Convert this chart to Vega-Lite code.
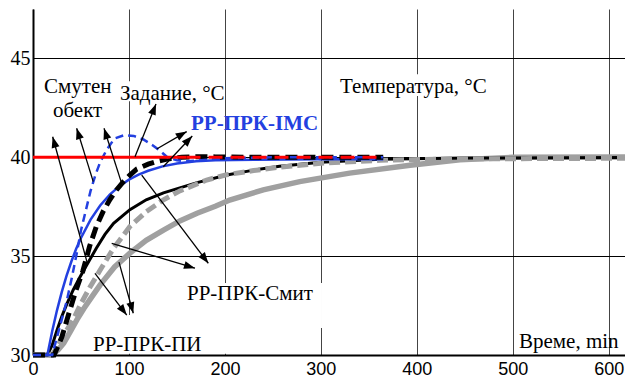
{
  "$schema": "https://vega.github.io/schema/vega-lite/v6.json",
  "width": 592,
  "height": 346,
  "autosize": {"type": "none"},
  "padding": {"left": 33, "top": 9, "right": 0, "bottom": 26},
  "background": "white",
  "config": {"view": {"stroke": null}},
  "datasets": {
    "curves": [
      {"s":"gray","x":0,"y":30},{"s":"gray","x":20,"y":30},{"s":"gray","x":26,"y":30.25},{"s":"gray","x":32,"y":30.6},{"s":"gray","x":39,"y":31.2},{"s":"gray","x":46,"y":31.8},{"s":"gray","x":53,"y":32.35},{"s":"gray","x":60,"y":32.85},{"s":"gray","x":70,"y":33.55},{"s":"gray","x":85,"y":34.45},{"s":"gray","x":101,"y":35.15},{"s":"gray","x":118,"y":35.8},{"s":"gray","x":136,"y":36.32},{"s":"gray","x":153,"y":36.78},{"s":"gray","x":171,"y":37.17},{"s":"gray","x":190,"y":37.52},{"s":"gray","x":205,"y":37.84},{"s":"gray","x":240,"y":38.35},{"s":"gray","x":278,"y":38.77},{"s":"gray","x":330,"y":39.2},{"s":"gray","x":393,"y":39.6},{"s":"gray","x":445,"y":39.88},{"s":"gray","x":500,"y":40.0},{"s":"gray","x":617,"y":40.02},
      {"s":"smb","x":0,"y":30},{"s":"smb","x":15,"y":30},{"s":"smb","x":20,"y":30.5},{"s":"smb","x":25,"y":31.25},{"s":"smb","x":30,"y":31.95},{"s":"smb","x":35,"y":32.55},{"s":"smb","x":42,"y":33.3},{"s":"smb","x":49,"y":33.95},{"s":"smb","x":56,"y":34.55},{"s":"smb","x":66,"y":35.4},{"s":"smb","x":75,"y":36.1},{"s":"smb","x":84,"y":36.66},{"s":"smb","x":101,"y":37.35},{"s":"smb","x":118,"y":37.85},{"s":"smb","x":136,"y":38.2},{"s":"smb","x":153,"y":38.45},{"s":"smb","x":171,"y":38.72},{"s":"smb","x":202,"y":39.1},{"s":"smb","x":230,"y":39.35},{"s":"smb","x":257,"y":39.55},{"s":"smb","x":300,"y":39.75},{"s":"smb","x":362,"y":39.9},{"s":"smb","x":450,"y":39.96},{"s":"smb","x":617,"y":39.99},
      {"s":"smg","x":0,"y":30},{"s":"smg","x":20,"y":30},{"s":"smg","x":25,"y":30.4},{"s":"smg","x":32,"y":31.0},{"s":"smg","x":42,"y":31.8},{"s":"smg","x":50,"y":32.6},{"s":"smg","x":59,"y":33.4},{"s":"smg","x":70,"y":34.3},{"s":"smg","x":84,"y":35.4},{"s":"smg","x":101,"y":36.5},{"s":"smg","x":118,"y":37.25},{"s":"smg","x":136,"y":37.85},{"s":"smg","x":153,"y":38.3},{"s":"smg","x":181,"y":38.85},{"s":"smg","x":202,"y":39.12},{"s":"smg","x":230,"y":39.33},{"s":"smg","x":257,"y":39.5},{"s":"smg","x":300,"y":39.7},{"s":"smg","x":362,"y":39.85},{"s":"smg","x":450,"y":39.92},{"s":"smg","x":617,"y":39.95},
      {"s":"bk","x":0,"y":30},{"s":"bk","x":22,"y":30},{"s":"bk","x":30,"y":30.9},{"s":"bk","x":38,"y":32.2},{"s":"bk","x":45,"y":33.3},{"s":"bk","x":52,"y":34.25},{"s":"bk","x":59,"y":35.5},{"s":"bk","x":66,"y":36.5},{"s":"bk","x":73,"y":37.25},{"s":"bk","x":80,"y":37.85},{"s":"bk","x":87,"y":38.35},{"s":"bk","x":94,"y":38.75},{"s":"bk","x":101,"y":39.1},{"s":"bk","x":108,"y":39.4},{"s":"bk","x":120,"y":39.65},{"s":"bk","x":130,"y":39.8},{"s":"bk","x":142,"y":39.93},{"s":"bk","x":155,"y":40.0},{"s":"bk","x":170,"y":40.03},{"s":"bk","x":190,"y":40.02},{"s":"bk","x":220,"y":40.0},{"s":"bk","x":365,"y":40.0},
      {"s":"bs","x":0,"y":30},{"s":"bs","x":15,"y":30},{"s":"bs","x":20,"y":31.2},{"s":"bs","x":25,"y":32.26},{"s":"bs","x":30,"y":33.19},{"s":"bs","x":35,"y":34.01},{"s":"bs","x":40,"y":34.73},{"s":"bs","x":45,"y":35.37},{"s":"bs","x":50,"y":35.92},{"s":"bs","x":60,"y":36.85},{"s":"bs","x":70,"y":37.56},{"s":"bs","x":80,"y":38.11},{"s":"bs","x":90,"y":38.54},{"s":"bs","x":100,"y":38.87},{"s":"bs","x":110,"y":39.12},{"s":"bs","x":120,"y":39.32},{"s":"bs","x":135,"y":39.54},{"s":"bs","x":150,"y":39.69},{"s":"bs","x":170,"y":39.8},{"s":"bs","x":190,"y":39.85},{"s":"bs","x":230,"y":39.88},{"s":"bs","x":300,"y":39.9},{"s":"bs","x":365,"y":39.9},
      {"s":"bd","x":0,"y":30},{"s":"bd","x":20,"y":30},{"s":"bd","x":25,"y":30.9},{"s":"bd","x":30,"y":31.8},{"s":"bd","x":35,"y":32.7},{"s":"bd","x":40,"y":33.8},{"s":"bd","x":45,"y":35.0},{"s":"bd","x":50,"y":36.3},{"s":"bd","x":55,"y":37.3},{"s":"bd","x":60,"y":38.3},{"s":"bd","x":65,"y":39.1},{"s":"bd","x":70,"y":39.75},{"s":"bd","x":77,"y":40.4},{"s":"bd","x":85,"y":40.95},{"s":"bd","x":95,"y":41.12},{"s":"bd","x":105,"y":41.08},{"s":"bd","x":115,"y":40.9},{"s":"bd","x":125,"y":40.6},{"s":"bd","x":133,"y":40.3},{"s":"bd","x":140,"y":40.0},{"s":"bd","x":150,"y":39.85},{"s":"bd","x":160,"y":39.8},{"s":"bd","x":175,"y":39.85},{"s":"bd","x":200,"y":39.95},{"s":"bd","x":250,"y":40.0},{"s":"bd","x":365,"y":40.0},
      {"s":"rs","x":0,"y":40},{"s":"rs","x":160,"y":40},
      {"s":"rd","x":160,"y":40},{"s":"rd","x":365,"y":40}
    ],
    "arrows": [
      {"x":56.3,"y":34.70,"x2":20.5,"y2":41.04,"angle":-15.3},
      {"x":62.8,"y":38.77,"x2":45.5,"y2":41.47,"angle":-17.3},
      {"x":92.4,"y":38.68,"x2":74.0,"y2":41.47,"angle":-17.8},
      {"x":106.3,"y":40.03,"x2":128.2,"y2":42.70,"angle":21.7},
      {"x":128.9,"y":40.42,"x2":160.2,"y2":41.30,"angle":60.0},
      {"x":135.8,"y":39.52,"x2":166.0,"y2":41.08,"angle":43.4},
      {"x":113.3,"y":39.10,"x2":182.7,"y2":34.64,"angle":143.0},
      {"x":82.0,"y":35.65,"x2":168.8,"y2":34.39,"angle":106.7},
      {"x":64.6,"y":34.13,"x2":97.7,"y2":32.02,"angle":142.8},
      {"x":89.6,"y":34.70,"x2":104.5,"y2":32.11,"angle":164.4}
    ],
    "masks": [
      {"x":89.6,"x2":198,"y":43.84,"y2":42.83},
      {"x":318,"x2":476,"y":44.2,"y2":43.1},
      {"x":158.4,"x2":301.2,"y":33.64,"y2":31.37},
      {"x":59.4,"x2":207.4,"y":32.02,"y2":30.06}
    ],
    "labels": [
      {"k":"n","text":"Смутен","x":11.5,"y":43.25},
      {"k":"n","text":"обект","x":20.8,"y":42.06},
      {"k":"n","text":"Задание, °C","x":90.7,"y":42.9},
      {"k":"b","text":"РР-ПРК-IMC","x":164.7,"y":41.38},
      {"k":"n","text":"Температура, °C","x":320,"y":43.24},
      {"k":"n","text":"РР-ПРК-Смит","x":160.5,"y":32.78},
      {"k":"n","text":"РР-ПРК-ПИ","x":62.5,"y":30.22},
      {"k":"n","text":"Време, min","x":506.5,"y":30.35}
    ]
  },
  "encoding": {
    "x": {"field": "x", "type": "quantitative",
      "scale": {"domain": [0, 617], "nice": false, "zero": false},
      "axis": {"values": [0,100,200,300,400,500,600], "title": null, "grid": true, "gridColor": "#444444", "gridWidth": 1, "ticks": false, "domainColor": "black", "domainWidth": 2, "labelFont": "Liberation Sans", "labelFontSize": 18, "labelColor": "black", "labelPadding": 5, "labelFlush": false, "labelOverlap": false, "labelBound": false}},
    "y": {"field": "y", "type": "quantitative",
      "scale": {"domain": [30, 47.5], "nice": false, "zero": false},
      "axis": {"values": [30,35,40,45], "title": null, "grid": true, "gridColor": "black", "gridWidth": 1, "ticks": false, "domainColor": "black", "domainWidth": 2, "labelFont": "Liberation Serif", "labelFontSize": 20, "labelColor": "black", "labelPadding": 3, "labelOverlap": false, "labelBound": false, "labelFlush": false}}
  },
  "layer": [
    {"data": {"name": "masks"}, "mark": {"type": "rect", "fill": "white"},
     "encoding": {"x2": {"field": "x2"}, "y2": {"field": "y2"}}},
    {"data": {"name": "curves"}, "transform": [{"filter": "datum.s === 'gray'"}],
     "mark": {"type": "line", "color": "#a0a0a0", "strokeWidth": 5.5}, "encoding": {}},
    {"data": {"name": "curves"}, "transform": [{"filter": "datum.s === 'smb'"}],
     "mark": {"type": "line", "color": "black", "strokeWidth": 3}, "encoding": {}},
    {"data": {"name": "curves"}, "transform": [{"filter": "datum.s === 'smg'"}],
     "mark": {"type": "line", "color": "#a0a0a0", "strokeWidth": 5, "strokeDash": [11, 5]}, "encoding": {}},
    {"data": {"name": "curves"}, "transform": [{"filter": "datum.s === 'bs'"}],
     "mark": {"type": "line", "color": "#2340e0", "strokeWidth": 2.5}, "encoding": {}},
    {"data": {"name": "curves"}, "transform": [{"filter": "datum.s === 'bk'"}],
     "mark": {"type": "line", "color": "black", "strokeWidth": 5, "strokeDash": [12, 6]}, "encoding": {}},
    {"data": {"name": "curves"}, "transform": [{"filter": "datum.s === 'bd'"}],
     "mark": {"type": "line", "color": "#2340e0", "strokeWidth": 2.5, "strokeDash": [8, 5]}, "encoding": {}},
    {"data": {"name": "curves"}, "transform": [{"filter": "datum.s === 'rs'"}],
     "mark": {"type": "line", "color": "#ff0000", "strokeWidth": 3}, "encoding": {}},
    {"data": {"name": "curves"}, "transform": [{"filter": "datum.s === 'rd'"}],
     "mark": {"type": "line", "color": "#ff0000", "strokeWidth": 3, "strokeDash": [14, 8]}, "encoding": {}},
    {"data": {"name": "arrows"}, "mark": {"type": "rule", "color": "black", "strokeWidth": 1.3},
     "encoding": {"x2": {"field": "x2"}, "y2": {"field": "y2"}}},
    {"data": {"name": "arrows"},
     "mark": {"type": "point", "shape": "M0,0L-0.4,1.1L0.4,1.1Z", "filled": true, "color": "black", "opacity": 1, "size": 400, "strokeWidth": 0},
     "encoding": {"x": {"field": "x2", "type": "quantitative"}, "y": {"field": "y2", "type": "quantitative"}, "angle": {"field": "angle", "type": "quantitative", "scale": null}}},
    {"data": {"name": "labels"}, "transform": [{"filter": "datum.k === 'n'"}],
     "mark": {"type": "text", "font": "Liberation Serif", "fontSize": 21, "color": "black", "align": "left", "baseline": "alphabetic"},
     "encoding": {"text": {"field": "text"}}},
    {"data": {"name": "labels"}, "transform": [{"filter": "datum.k === 'b'"}],
     "mark": {"type": "text", "font": "Liberation Serif", "fontSize": 21, "fontWeight": "bold", "color": "#2340e0", "align": "left", "baseline": "alphabetic"},
     "encoding": {"text": {"field": "text"}}},
    {"data": {"values": [{}]}, "mark": {"type": "rule", "color": "black", "strokeWidth": 1},
     "encoding": {"x": {"datum": 0}, "x2": {"datum": 617}, "y": {"datum": 47.5}}}
  ]
}
